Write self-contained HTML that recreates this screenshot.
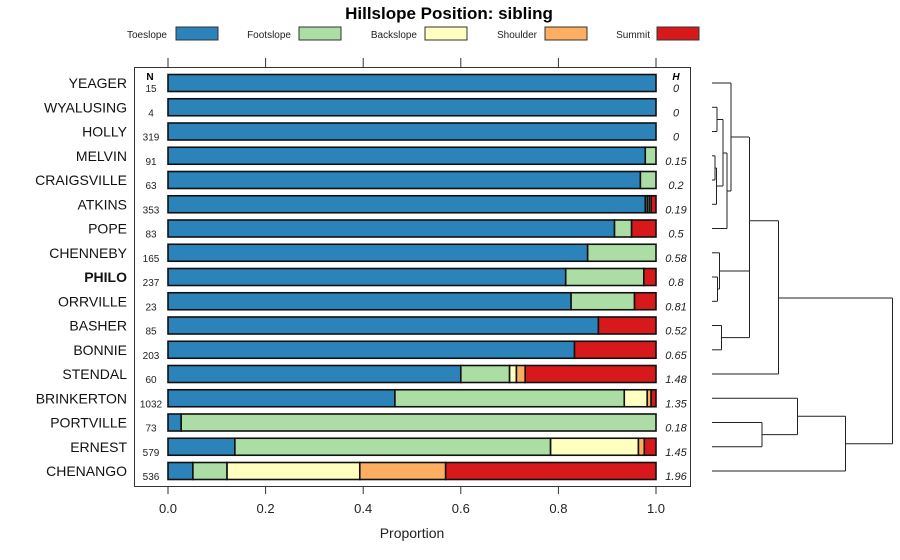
<!DOCTYPE html>
<html><head><meta charset="utf-8"><style>
body{margin:0;background:#fff;}
svg{display:block;font-family:"Liberation Sans",sans-serif;}
</style></head><body>
<svg id="chart" width="900" height="560"></svg>
<script>
const categories=["YEAGER","WYALUSING","HOLLY","MELVIN","CRAIGSVILLE","ATKINS","POPE","CHENNEBY","PHILO","ORRVILLE","BASHER","BONNIE","STENDAL","BRINKERTON","PORTVILLE","ERNEST","CHENANGO"];
const nValues=[15,4,319,91,63,353,83,165,237,23,85,203,60,1032,73,579,536];
const hValues=["0","0","0","0.15","0.2","0.19","0.5","0.58","0.8","0.81","0.52","0.65","1.48","1.35","0.18","1.45","1.96"];
const seriesNames=["Toeslope","Footslope","Backslope","Shoulder","Summit"];
const toeslope=[1,1,1,0.978,0.968,0.978,0.915,0.86,0.815,0.826,0.882,0.833,0.6,0.465,0.027,0.137,0.051];
const footslope=[0,0,0,0.022,0.032,0.004,0.035,0.14,0.16,0.13,0,0,0.1,0.47,0.973,0.647,0.07];
const backslope=[0,0,0,0,0,0.004,0,0,0,0,0,0,0.014,0.047,0,0.18,0.272];
const shoulder=[0,0,0,0,0,0.004,0,0,0,0,0,0,0.018,0.008,0,0.012,0.176];
const summit=[0,0,0,0,0,0.01,0.05,0,0.025,0.044,0.118,0.167,0.268,0.01,0,0.024,0.431];
const xTicks=[0,0.2,0.4,0.6,0.8,1.0];
const xTickLabels=["0.0","0.2","0.4","0.6","0.8","1.0"];
const colors=["#2B83BA","#ABDDA4","#FFFFBF","#FDAE61","#D7191C"];
const series=[toeslope,footslope,backslope,shoulder,summit];

const svg=document.getElementById('chart');
const NS="http://www.w3.org/2000/svg";
function mk(tag,attrs,parent){const e=document.createElementNS(NS,tag);for(const k in attrs)e.setAttribute(k,attrs[k]);(parent||svg).appendChild(e);return e;}
const xScale=v=>168+v*488;
const yScale=i=>83+i*24.25;

// title
let t=mk('text',{x:449,y:19,'text-anchor':'middle','font-size':17,'font-weight':'bold'});
t.textContent="Hillslope Position: sibling";



// legend
const legText=[[167,176],[291,299],[417,425],[537,545],[650,657]];
seriesNames.forEach((s,k)=>{
  const g=mk('g',{});
  
  
  const tx=mk('text',{x:legText[k][0],y:38,'text-anchor':'end','font-size':10,fill:'#222'},g);
  tx.textContent=s;
  mk('rect',{x:legText[k][1],y:27,width:42,height:13,fill:colors[k],stroke:'#333','stroke-width':1},g);
});

// panel
const panel=mk('rect',{x:134.5,y:67.5,width:556,height:419,fill:'none',stroke:'#333','stroke-width':1});



// ticks
xTicks.forEach((v,k)=>{
  const x=xScale(v);
  mk('line',{x1:x,x2:x,y1:58,y2:67,stroke:'#333'});
  mk('line',{x1:x,x2:x,y1:487,y2:494,stroke:'#333'});
  const l=mk('text',{x:x,y:513,'text-anchor':'middle','font-size':13,fill:'#222'});
  l.textContent=xTickLabels[k];
  
  
});
let xt=mk('text',{x:412,y:538,'text-anchor':'middle','font-size':14,fill:'#222'});
xt.textContent="Proportion";



let nh=mk('text',{x:150,y:80,'text-anchor':'middle','font-size':10,'font-weight':'bold'});nh.textContent="N";


let hh=mk('text',{x:676,y:80,'text-anchor':'middle','font-size':10,'font-weight':'bold','font-style':'italic'});hh.textContent="H";



categories.forEach((c,i)=>{
  const y=yScale(i);
  const lab=mk('text',{x:127,y:y+5,'text-anchor':'end','font-size':14,fill:'#111','font-weight':c==="PHILO"?'bold':'normal'});
  lab.textContent=c;
  
  
  const nt=mk('text',{x:151,y:y+9,'text-anchor':'middle','font-size':10,fill:'#222'});
  nt.textContent=nValues[i];
  
  
  const ht=mk('text',{x:676,y:y+9,'text-anchor':'middle','font-size':11,'font-style':'italic',fill:'#222'});
  ht.textContent=hValues[i];
  
  
  let cum=0;
  series.forEach((arr,k)=>{
    const v=arr[i];
    if(v>0){
      const r=mk('rect',{x:xScale(cum),y:y-8.5,width:xScale(cum+v)-xScale(cum),height:17,fill:colors[k],stroke:'#111','stroke-width':1.6});
      
      
    }
    cum+=v;
  });
});

// dendrogram
const dend=mk('g',{stroke:'#222','stroke-width':1,fill:'none'});


const segs=[
 [712,83,731,83],[731,83,731,191],[731,137,749,137],
 [712,107.3,717,107.3],[712,131.5,717,131.5],[717,107.3,717,131.5],[717,119.5,723,119.5],
 [712,155.8,715,155.8],[712,180,715,180],[715,155.8,715,180],[715,168,716.5,168],
 [712,204.3,716.5,204.3],[716.5,168,716.5,204.3],[716.5,186,723,186],
 [723,119.5,723,186],[723,153,727,153],[712,228.5,727,228.5],[727,153,727,228.5],[727,191,731,191],
 [712,252.8,719.5,252.8],[712,277,717.5,277],[712,301.3,717.5,301.3],[717.5,277,717.5,301.3],[717.5,289,719.5,289],
 [719.5,252.8,719.5,289],[719.5,271,749.5,271],
 [712,325.5,721.5,325.5],[712,349.8,721.5,349.8],[721.5,325.5,721.5,349.8],[721.5,337.6,749.5,337.6],
 [749.5,137,749.5,337.6],[749.5,220.7,778.5,220.7],
 [712,374,778.5,374],[778.5,220.7,778.5,374],[778.5,298,892.5,298],
 [712,398.3,797.5,398.3],[712,422.5,762,422.5],[712,446.8,762,446.8],[762,422.5,762,446.8],[762,434.6,797.5,434.6],
 [797.5,398.3,797.5,434.6],[797.5,416.3,845.5,416.3],[712,471,845.5,471],[845.5,416.3,845.5,471],[845.5,443.7,892.5,443.7],
 [892.5,298,892.5,443.7]
];
segs.forEach(s=>mk('line',{x1:s[0],y1:s[1],x2:s[2],y2:s[3]},dend));
</script>
</body></html>
